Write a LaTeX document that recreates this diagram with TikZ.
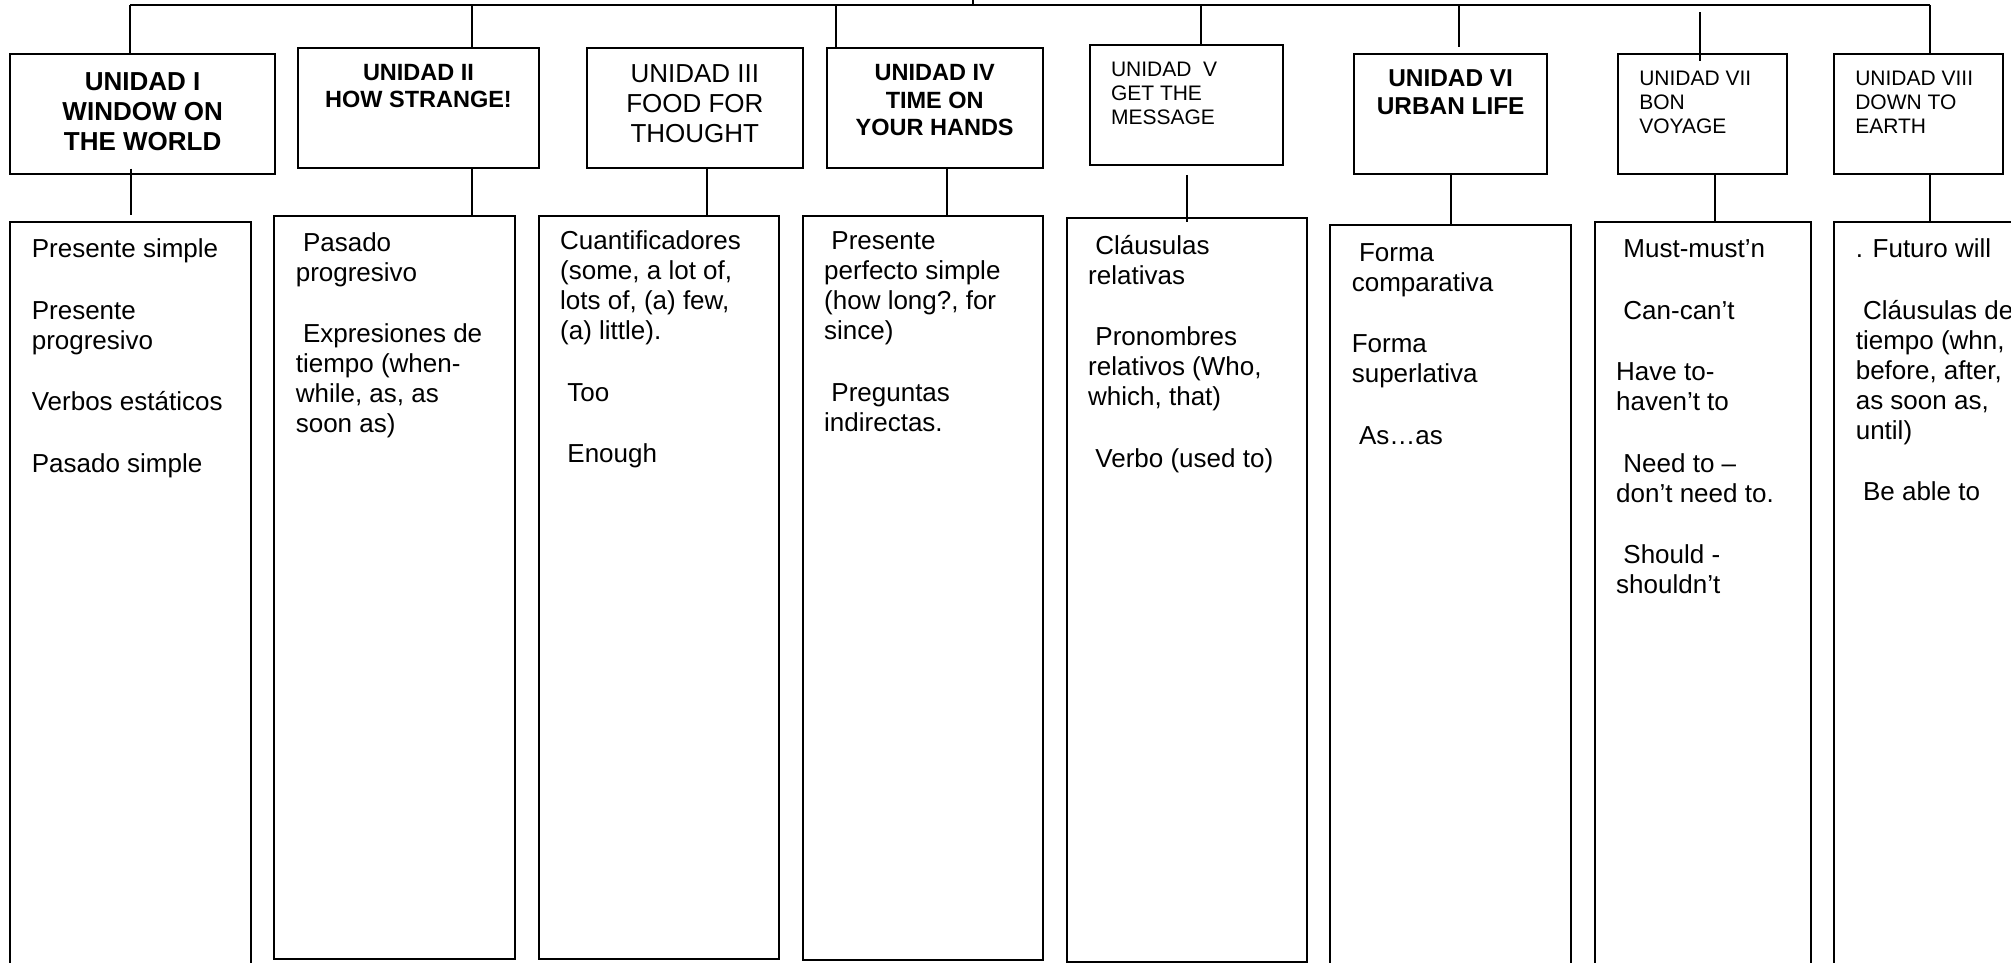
\documentclass[tikz,border=0pt]{standalone}
\usepackage{fontspec}
\setmainfont{Liberation Sans}
\usetikzlibrary{calc}
\tikzset{
unit/.style={draw, line width=2pt, inner sep=0pt, anchor=north west}, % boxes for the units and their contents
link/.style={line width=1.8pt}, % the connecting lines
}
% width, height, setup, first baseline, text
\newcommand{\cellbox}[5]{\parbox[t][#2][t]{#1}{#3\rule{0pt}{#4}#5}}
\newcommand{\lsp}{\hspace*{0.278em}}
\newcommand{\pgap}{\\[31.5pt]}
\newcommand{\detailfont}{\raggedright\leftskip=21.5pt\fontsize{26}{30}\selectfont}

\begin{document}
\begin{tikzpicture}[x=1pt, y=-1pt]
\useasboundingbox (0,0) rectangle (2011,963);
\clip (0,0) rectangle (2011,963);

% units
\node[unit] (u1) at (9.3,53.3) {\cellbox{264.7pt}{120pt}{\centering\bfseries\fontsize{26}{30}\selectfont}{36pt}{UNIDAD I\\WINDOW ON\\THE WORLD}};
\node[unit] (u2) at (297.3,46.7) {\cellbox{240.4pt}{120pt}{\centering\bfseries\fontsize{23.5}{26.7}\selectfont}{33.3pt}{UNIDAD II\\HOW STRANGE!}};
\node[unit] (u3) at (585.7,46.7) {\cellbox{216.3pt}{120pt}{\centering\fontsize{26}{30}\selectfont}{35.3pt}{UNIDAD III\\FOOD FOR\\THOUGHT}};
\node[unit] (u4) at (825.7,46.7) {\cellbox{216pt}{120pt}{\centering\bfseries\fontsize{23.5}{27.5}\selectfont}{33.3pt}{UNIDAD IV\\TIME ON\\YOUR HANDS}};
\node[unit] (u5) at (1089.3,44) {\cellbox{192.7pt}{120.3pt}{\raggedright\leftskip=20.7pt\fontsize{21}{24.3}\selectfont}{31.3pt}{UNIDAD~~V\\GET THE\\MESSAGE}};
\node[unit] (u6) at (1353.3,53.3) {\cellbox{192.7pt}{120pt}{\centering\bfseries\fontsize{24.4}{27.3}\selectfont}{32.7pt}{UNIDAD VI\\URBAN LIFE}};
\node[unit] (u7) at (1617.3,53.3) {\cellbox{168.4pt}{120pt}{\raggedright\leftskip=21pt\fontsize{21}{24.3}\selectfont}{31pt}{UNIDAD VII\\BON\\VOYAGE}};
\node[unit] (u8) at (1833.3,53.3) {\cellbox{168.4pt}{120pt}{\raggedright\leftskip=21pt\fontsize{21}{24.3}\selectfont}{31pt}{UNIDAD VIII\\DOWN TO\\EARTH}};

% contents
\node[unit] (d1) at (9.3,221) {\cellbox{240.7pt}{800pt}{\detailfont}{35.5pt}{Presente simple\pgap Presente\\progresivo\pgap Verbos estáticos\pgap Pasado simple}};
\node[unit] (d2) at (273.3,215) {\cellbox{240.2pt}{743.3pt}{\detailfont}{35pt}{\lsp Pasado\\progresivo\pgap \lsp Expresiones de\\tiempo (when-\\while, as, as\\soon as)}};
\node[unit] (d3) at (537.7,215) {\cellbox{240pt}{743.3pt}{\detailfont}{33.5pt}{Cuantificadores\\(some, a lot of,\\lots of, (a) few,\\(a) little).\pgap \lsp Too\pgap \lsp Enough}};
\node[unit] (d4) at (801.7,215) {\cellbox{240pt}{744pt}{\detailfont}{33.5pt}{\lsp Presente\\perfecto simple\\(how long?, for\\since)\pgap \lsp Preguntas\\indirectas.}};
\node[unit] (d5) at (1065.7,217.3) {\cellbox{240.3pt}{743.2pt}{\detailfont}{36pt}{\lsp Cláusulas\\relativas\pgap \lsp Pronombres\\relativos (Who,\\which, that)\pgap \lsp Verbo (used to)}};
\node[unit] (d6) at (1329.3,224) {\cellbox{240.7pt}{800pt}{\detailfont}{36pt}{\lsp Forma\\comparativa\pgap Forma\\superlativa\pgap \lsp As…as}};
\node[unit] (d7) at (1593.7,220.7) {\cellbox{216.3pt}{800pt}{\detailfont}{36pt}{\lsp Must-must’n\pgap \lsp Can-can’t\pgap Have to-\\haven’t to\pgap \lsp Need to –\\don’t need to.\pgap \lsp Should -\\shouldn’t}};
\node[unit] (d8) at (1833.3,220.7) {\cellbox{240pt}{800pt}{\detailfont}{36pt}{. Futuro will\pgap \lsp Cláusulas de\\tiempo (whn,\\before, after,\\as soon as,\\until)\pgap \lsp Be able to}};

% top bar
\coordinate (bar) at (0,5);
\coordinate (root) at (972.7,0);
\draw[link] (root) -- (root |- bar);
\draw[link] ($(u1.north |- bar)+(-12.35,0)$) -- ($(u8.north |- bar)+(11.8,0)$);
\foreach \n/\dx in {1/-12.35, 2/53.2, 4/-98.4, 5/14.35, 8/11.8}
  \draw[link] ($(u\n.north |- bar)+(\dx,0)$) -- ($(u\n.north)+(\dx,0)$);
\draw[link] ($(u6.north |- bar)+(8.65,0)$) -- ($(u6.north)+(8.65,-6.6)$);
\draw[link] ($(u7.north)+(-2.5,-41)$) -- ($(u7.north)+(-2.5,7.7)$);

% units to contents
\foreach \n/\dx/\ya/\yb in {1/-11.65/-6.6/-6, 2/53.2/0/0, 3/11.85/0/0, 4/12/0/0, 5/0/8.7/4.4, 6/0/0/0, 7/12.2/0/0, 8/11.8/0/0}
  \draw[link] ($(u\n.south)+(\dx,\ya)$) -- ($(u\n.south |- d\n.north)+(\dx,\yb)$);
\end{tikzpicture}
\end{document}
